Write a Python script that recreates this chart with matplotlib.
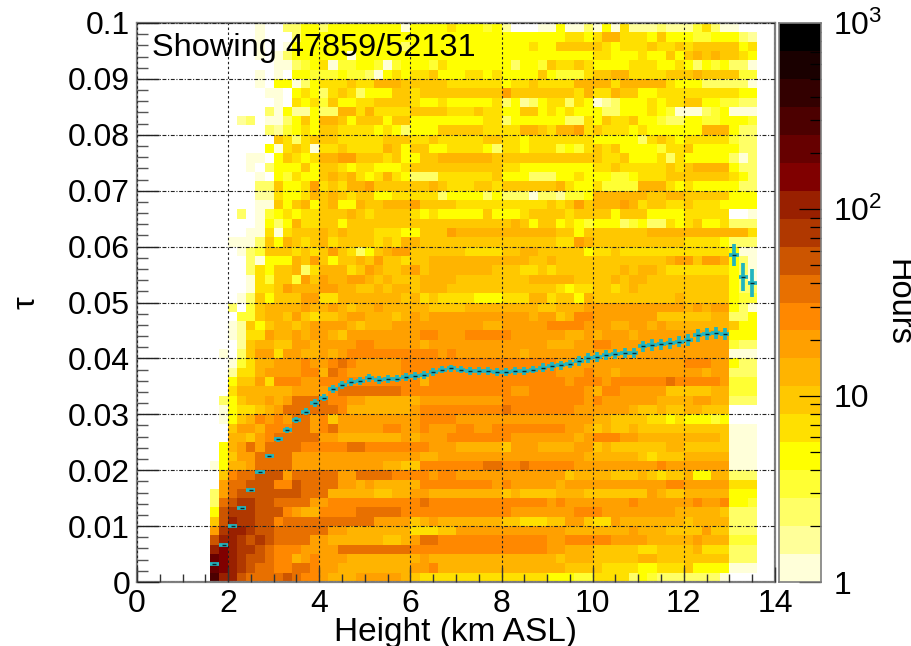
import numpy as np
import matplotlib
matplotlib.use("Agg")
import matplotlib.pyplot as plt
from matplotlib.colors import ListedColormap, BoundaryNorm
from matplotlib.ticker import FixedLocator, NullFormatter, FuncFormatter

plt.rcParams['font.family'] = ['Liberation Sans', 'DejaVu Sans']
plt.rcParams['mathtext.fontset'] = 'custom'
plt.rcParams['mathtext.rm'] = 'Liberation Sans'
plt.rcParams['mathtext.default'] = 'rm'

PALETTE = ['#FFFFD9', '#FFFF99', '#FFFF66', '#FFFF33', '#FFFF00', '#FFE000', '#FFC800', '#FFB400', '#FFA000', '#FF8800',
           '#E87000', '#CC5500', '#B03800', '#992000', '#800000', '#660000', '#4C0000', '#330000', '#1A0000', '#000000']
LEVEL_CODES = 'abcdefghijklmnopqrst'
COLOUR_EDGES = np.logspace(0, 3, 21)

# one entry per tau bin, bottom to top; "<first height column><hours level>" runs
HEAT_ROWS = [
"0q 1n 3l 4k 8l 9k 10j 12i 13h 16i 21h 22g 23f 37e 40d 42f 46c 47e 48d 49c 55c 56a 57.",
"0p 1o 2n 3m 4l 5k 7j 9k 11j 12i 14h 22i 24j 25h 39g 43f 47e 49f 52g 53e 57a",
"0p 1o 2n 3m 4l 6k 7j 9h 10i 11j 12i 15h 23i 24h 38g 39h 42g 47h 49g 57c",
"0n 1o 2n 3m 5l 6k 7j 10i 14k 22j 37i 39h 42g 47f 49g 53h 54f 57c",
"0l 1n 3m 4l 5m 6l 7k 11i 13h 19g 21h 22i 23k 25j 37i 39j 44i 48h 53i 54h 57d",
"0i 1m 2n 4m 5l 7k 13i 15h 22f 25g 27i 39h 46i 47h 50g 54i 55g 57c",
"0g 1l 2n 3m 5l 7j 8k 18i 22g 23h 24i 25h 32g 34f 37g 39i 41g 42f 44i 45h 52g 53h 57c",
"0e 1l 2m 5l 8j 9i 10h 12j 16k 21j 33i 40j 43i 51h 56g 57c",
"0c 1k 2l 3m 5l 7k 11i 13j 23k 24j 37i 38j 39i 46j 47i 53j 54i 56j 57e 59d",
"0c 1i 2k 3l 10k 13h 18g 20h 22i 24h 32g 33h 34g 38h 41g 48i 49h 50g 52h 57e",
"0. 1i 2k 4l 7j 9l 10k 14i 16h 17i 18h 23j 31i 32j 33i 38h 39i 50j 52i 57f",
"0. 1g 2j 3k 5l 8i 9k 14i 16k 20j 24i 25j 27i 39g 40h 44g 47h 48g 49f 50g 52h 53e 55h 57c",
"0a 1e 2h 4i 5k 9i 19h 21g 23j 30k 32j 34k 35j 40i 49j 50i 57a",
"0. 1e 2g 3i 5k 9i 23h 25i 41h 47g 48f 49g 52h 57a",
"0. 1e 2h 3i 4k 5i 6k 10j 15k 17j 24i 27h 32g 33i 36h 40i 42g 43h 44g 50h 52g 57a",
"0. 2h 4g 5i 6j 7k 12i 14h 21i 22h 23i 26j 33i 40h 41i 42j 45i 47h 56g 57a",
"0. 2g 3i 5h 6j 9k 11i 12j 13k 14i 19j 21i 23j 24i 27j 29i 31j 39i 41h 42g 43h 44g 46h 47g 57a",
"0. 1a 2e 3g 4h 5j 6i 7j 8i 9k 11i 12j 13g 14i 23j 27i 42h 44g 48f 50e 51f 52e 55d 56e 57.",
"0. 1a 2e 3f 5g 6h 7i 8k 14j 15h 22i 23j 32k 33j 40i 46h 47g 49h 50g 52h 54g 57.",
"0. 1c 2e 3g 4h 6i 7h 8i 9k 13j 15i 17h 23i 32j 41i 42j 43i 49h 53i 55h 57c",
"0. 2f 3h 9i 13j 14k 21j 33i 35j 41i 42h 43j 45i 50g 55h 57d",
"0. 2e 3g 5i 6f 7j 10i 12j 23h 24j 38j 39i 40j 43i 44j 50k 51j 56i 57d",
"0. 2b 3f 5h 6i 10j 12h 13k 14j 15i 21j 38i 41j 42i 44h 45i 54h 55i 57c",
"0. 2a 3d 4f 5h 7i 10j 11i 13j 14k 15j 16i 21j 38i 52j 55i 57e 58c",
"0. 1a 2. 3c 4g 5i 7f 8i 10h 12i 13h 14i 15j 25i 26j 27i 34h 35i 57a",
"0. 3b 4g 5h 7g 9i 11h 12i 15i 16j 18i 23h 24i 37h 38h 40i 42j 44i 57d 58c",
"0. 2a 3b 4f 6i 7h 9i 10h 11i 13h 14g 15i 23j 25i 28j 33i 38i 39h 41i 42h 43i 46h 47i 57e",
"0. 2a 3b 4g 5e 6g 7h 9g 10h 11i 15h 16g 17h 20i 30h 32i 37j 41i 44h 46i 48h 49i 50h 57g 58e",
"0. 3d 5g 6h 8g 9i 10g 11f 12g 14h 15i 17h 20g 21h 22i 23h 24i 35h 36i 38g 39h 40j 42i 49g 55h 57c 59e",
"0. 2c 3. 4d 5g 6h 10i 11h 13i 14h 15g 16h 18i 19h 24g 28h 36g 38h 41i 52h 53i 54h 55i 57e 58c 59a",
"0. 3a 4c 5g 6e 7g 10i 12f 14h 21g 22h 23f 24g 25f 29e 32f 35h 37f 38g 40e 41h 42g 51h 52g 57e 58d",
"0. 4a 5f 7g 8i 9h 12i 14h 16g 18h 19g 20h 22g 23h 26g 38f 39e 40f 42g 44f 45g 46h 47g 57e 58c",
"0. 4a 5f 6d 7g 9d 10i 11g 12i 13h 15i 17h 18g 19h 20g 23h 27g 35h 38h 40g 44h 45g 46h 48g 57e 58c 59a",
"0. 4c 5f 6e 7g 9h 10c 11f 12h 15f 16g 17i 18h 19g 21h 22i 23g 24h 31g 34f 36g 37f 38g 45h 46g 47h 49g 50f 57e 58c 59a",
"0. 4c 5a 6e 9h 10g 11i 12g 13e 14g 16h 17g 18i 19g 21f 22g 24h 35g 37h 38g 50h 51i 53g 54i 56h 57e 58c 59a",
"0. 3a 4c 5d 6g 9f 10g 11f 12g 13i 14g 15f 16c 17e 18g 19h 20i 22g 28f 32g 34h 36g 41e 42f 44g 45f 57e 58a",
"0. 2a 5c 6g 7e 8h 9g 10f 11g 12h 13f 14g 18f 19g 20f 21h 23g 38f 40i 41h 42g 52f 56e 57c",
"0. 4a 6f 7a 8f 9g 12h 13g 14h 15g 18f 21e 23g 26i 27h 38g 40e 41g 48h 59f",
"0. 5a 6e 7c 8e 9h 10f 12g 14e 15g 33h 34g 35e 36g 38e 39f 40e 41d 42e 45c 46d 47e 48c 50f 51e 52f 53g 54e 56f 57c",
"0. 3c 4. 5a 6d 7e 8f 9e 10f 12g 15h 16g 17f 18g 22f 23e 24f 25e 30g 31e 34f 35g 39f 40g 44e 45g 48e 52f 57. 59a",
"0. 5a 7g 8e 9g 10h 11e 12g 13h 14e 16h 17g 19h 22i 23g 27f 37g 38f 39g 40i 41g 42h 45i 46h 47f 48g 50f 52g 53f 56e",
"0. 5b 7f 8e 10f 11h 12g 13h 14g 15f 16g 18e 20f 25c 26e 30c 31e 32c 35a 36c 38b 39d 41e 42h 48g 50h 52g 57e",
"0. 5c 7g 8e 10f 11i 12f 13g 14f 15h 17i 18g 24h 25g 26f 29g 31f 32g 38h 39f 40e 42f 43d 47h 50f 51e 52f 53e 58c",
"0. 5a 6. 7e 8d 9f 10e 12g 13h 14g 15h 16f 17e 18f 19h 20f 21e 22c 25f 31g 32e 35c 38e 40f 41e 44d 46e 47f 50g 57f 58e 59c",
"0. 4a 5. 6c 7e 10g 11e 12g 14f 15e 16f 18e 21f 22g 32f 34e 38e 42f 44g 45f 50g 51f 52g 53h 57e 58c",
"0. 4a 6. 7e 8g 9f 10e 11f 12h 14i 15i 16g 19f 20g 21e 23g 25h 31g 43f 45g 46e 49f 50c 51f 52e 57c 58a 59c",
"0. 6e 7a 8f 9g 10f 11a 12f 14g 15f 19h 20g 21e 22g 24e 26f 30e 31c 32f 34e 35f 38d 39e 40d 41f 42g 43f 44g 45e 49d 50f 52g 53e 58c",
"0. 7g 8f 9c 10f 11g 14f 19g 22f 24g 25f 30g 32f 34e 35f 42e 47c 48f 49g 50f 51e 52f 57d 58c",
"0. 6c 7b 8d 9e 10f 11e 12g 14f 18e 19f 20e 21c 22e 25g 30f 34h 36g 37f 38h 40i 41f 42g 43f 46e 47f 48e 54h 57e 58c",
"0. 3b 4c 5. 6a 8c 9e 10g 11e 12h 14g 15e 16g 19e 20g 22e 30f 32c 33e 38e 39c 41f 42e 43g 44f 46g 47e 49d 50c 52e 54d 56e 59d",
"0. 6c 7a 8e 9b 11e 12c 14h 15h 16f 17h 18f 22g 26f 29g 30f 32e 34g 36e 37f 38e 39f 40e 43c 45e 48f 49e 50d 51a 54c 55d 56e 57a",
"0. 7a 8. 9f 10e 11f 12d 13g 14e 16f 18g 22f 23e 25f 26e 31f 32c 33e 34b 35c 36e 37f 39c 40f 41e 42a 43b 44c 45e 48f 49e 50f 52g 54e 56d 58c",
"0. 6a 8. 9e 10f 11e 12c 13f 14g 15f 16c 17e 20g 22f 23g 32i 33g 38g 40f 41h 42f 44h 45g 47e 49f 58e",
"0. 5a 6. 7e 9a 10c 11e 12f 15g 16f 18h 21g 26f 32e 33f 35g 36f 38f 40h 44f 45h 50f 51e 54c 59a",
"0. 5a 6. 7a 8. 9e 11d 14e 15d 17c 18a 19e 20f 21e 22f 24g 25e 28f 30e 31f 32e 36g 37e 38d 41f 42g 44h 46f 50g 53h 54g 58d",
"0. 7a 9c 10d 11e 12f 13a 14d 15d 16e 18d 19a 20d 21e 24d 25f 26e 33c 34e 36d 37g 38f 40g 41f 42e 46f 49e 51f 52e 53c 54e 55d 56e 57c 59a",
"0. 5a 6. 7a 8c 9e 15a 16e 38e 42f 44e 47f 48e 50g 51e 52g 53h 54g 55h 56g 58f 59e",
"0. 5a 6. 8a 9e 21c 22e 35f 36e 38g 43f 44e 45f 48g 49f 51g 52f 53g 58e 59f",
"0. 5a 6. 9c 10e 38e 39f 41e 42f 43h 45f 48e 49g 50e 53d 55e 58c 59b",
"0. 5a 6. 8c 10e 12c 13e 21a 22e 26f 27e 30d 31e 32b 33. 36a 37a 38e 39a 41c 42a 43e 44a 45f 46b 49c 50b 53d 54f 55c 56a 58.",
]

HEIGHT_CENTRES = [1.7, 1.9, 2.1, 2.3, 2.5, 2.7, 2.9, 3.1, 3.3, 3.5, 3.7, 3.9, 4.1, 4.3, 4.5, 4.7, 4.9, 5.1, 5.3, 5.5,
                  5.7, 5.9, 6.1, 6.3, 6.5, 6.7, 6.9, 7.1, 7.3, 7.5, 7.7, 7.9, 8.1, 8.3, 8.5, 8.7, 8.9, 9.1, 9.3, 9.5,
                  9.7, 9.9, 10.1, 10.3, 10.5, 10.7, 10.9, 11.1, 11.3, 11.5, 11.7, 11.9, 12.1, 12.3, 12.5, 12.7, 12.9,
                  13.1, 13.3, 13.5]
MEAN_TAU = [.0033, .0066, .0100, .0132, .0165, .0197, .0225, .0255, .0272, .0290, .0305, .0320, .0330, .0345, .0352,
            .0358, .0360, .0365, .0362, .0363, .0364, .0367, .0368, .0370, .0375, .0380, .0382, .0380, .0378, .0378,
            .0377, .0376, .0375, .0377, .0378, .0380, .0383, .0386, .0388, .0390, .0395, .0400, .0403, .0406, .0408,
            .0409, .0410, .0422, .0424, .0425, .0427, .0430, .0433, .0441, .0444, .0445, .0444, .0585, .0545, .0535]
TAU_ERR = [.0001, .0001, .0002, .0002, .0002, .0004, .0004, .0005, .0005, .0006, .0006, .0007, .0007, .0007, .0007,
           .0007, .0007, .0007, .0007, .0007, .0007, .0007, .0007, .0007, .0007, .0007, .0007, .0007, .0007, .0007,
           .0007, .0007, .0007, .0007, .0007, .0007, .0008, .0008, .0008, .0008, .0009, .0009, .0009, .0009, .0009,
           .0009, .0009, .0010, .0010, .0010, .0010, .0010, .0010, .0011, .0011, .0011, .0011, .0020, .0025, .0025]
X_TICKS = [0, 2, 4, 6, 8, 10, 12, 14]
Y_TICKS = [0, .01, .02, .03, .04, .05, .06, .07, .08, .09, .1]
Y_TICK_LABELS = ['0', '0.01', '0.02', '0.03', '0.04', '0.05', '0.06', '0.07', '0.08', '0.09', '0.1']
CB_MAJOR = [1, 10, 100, 1000]
CB_LABELS = ['1', '10', r'$10^{2}$', r'$10^{3}$']
CB_MINOR = [2, 3, 4, 5, 6, 7, 8, 9, 20, 30, 40, 50, 60, 70, 80, 90, 200, 300, 400, 500, 600, 700, 800, 900]
TITLE_NOTE = 'Showing 47859/52131'

LEVEL_MID = np.sqrt(COLOUR_EDGES[:-1] * COLOUR_EDGES[1:])


def decode(row):
    out = np.full(60, np.nan)
    toks = row.split()
    for k, tok in enumerate(toks):
        a, code = int(tok[:-1]), tok[-1]
        b = int(toks[k + 1][:-1]) if k + 1 < len(toks) else 60
        if code != '.':
            out[a:b] = LEVEL_MID[LEVEL_CODES.index(code)]
    return out


hours = np.ma.masked_invalid(np.array([decode(r) for r in HEAT_ROWS]))
x_edges = np.linspace(0, 14, 71)[8:69]
y_edges = np.linspace(0, 0.1, 61)
cmap = ListedColormap(PALETTE)
norm = BoundaryNorm(COLOUR_EDGES, cmap.N)

W, H = 912, 646
fig = plt.figure(figsize=(W / 100, H / 100), dpi=100)
FS = 23
GREY = '#7f7f7f'
ax = fig.add_axes([137 / W, 1 - 582 / H, (775 - 137) / W, (582 - 23) / H])
ax.pcolormesh(x_edges, y_edges, hours, cmap=cmap, norm=norm, linewidth=0, rasterized=True, zorder=1)
ax.set_xlim(0, 14)
ax.set_ylim(0, 0.1)
ax.set_xticks(X_TICKS)
ax.set_yticks(Y_TICKS)
ax.set_yticklabels(Y_TICK_LABELS)
ax.xaxis.set_minor_locator(FixedLocator([v * 0.5 for v in range(29) if v % 4]))
ax.yaxis.set_minor_locator(FixedLocator([v * 0.002 for v in range(51) if v % 5]))
ax.tick_params(axis='x', which='major', direction='in', length=11, width=1, labelsize=FS, pad=5, color='#333333')
ax.tick_params(axis='x', which='minor', direction='in', length=5.5, width=1, color='#333333')
ax.tick_params(axis='y', which='major', direction='in', length=16, width=1, labelsize=FS, pad=5, color='#222222')
ax.tick_params(axis='y', which='minor', direction='in', length=8, width=1, color='#555555')
ax.set_axisbelow(False)
ax.grid(True, which='major', axis='x', color='#222222', lw=0.8, ls=(0, (2.2, 2.2)), zorder=3)
ax.grid(True, which='major', axis='y', color='#222222', lw=0.8, ls=(0, (3.5, 1.5, 1, 1.5)), zorder=3)
for s in ax.spines.values():
    s.set_color(GREY)
    s.set_linewidth(1.6)

ax.errorbar(HEIGHT_CENTRES, MEAN_TAU, xerr=0.1, yerr=TAU_ERR, fmt='none', ecolor='#22B5BF', elinewidth=2.7, zorder=4)
ax.plot(HEIGHT_CENTRES, MEAN_TAU, ls='none', marker='_', color='#0b2a30', ms=3.5, mew=1.0, zorder=5)

ax.set_xlabel('Height (km ASL)', fontsize=24)
ax.xaxis.set_label_coords(0.5, (582 - 632) / 559, transform=ax.transAxes)
ax.xaxis.label.set_va('center')
ax.set_ylabel('\u03c4', fontsize=FS, rotation=90)
ax.yaxis.set_label_coords((27 - 137) / 638, 0.5)
ax.yaxis.label.set_va('center')
ax.text(0.0235, 1 - 25 / 559, TITLE_NOTE, transform=ax.transAxes, fontsize=23.4, va='center', ha='left', color='black', zorder=6)

cax = fig.add_axes([779 / W, 1 - 582 / H, (821 - 779) / W, (582 - 23) / H])
cax.pcolormesh([0, 1], COLOUR_EDGES, LEVEL_MID[:, None], cmap=cmap, norm=norm, linewidth=0, rasterized=True)
cax.set_yscale('log')
cax.set_ylim(1, 1000)
cax.set_xticks([])
cax.yaxis.tick_right()
cax.yaxis.set_major_locator(FixedLocator(CB_MAJOR))
cax.yaxis.set_major_formatter(FuncFormatter(lambda v, p: CB_LABELS[CB_MAJOR.index(int(round(v)))]))
cax.yaxis.set_minor_locator(FixedLocator(CB_MINOR))
cax.yaxis.set_minor_formatter(NullFormatter())
cax.tick_params(axis='y', which='major', direction='in', length=16, width=0.9, labelsize=FS, pad=9, color='black')
cax.tick_params(axis='y', which='minor', direction='in', length=8, width=0.9, color='black')
for s in cax.spines.values():
    s.set_color(GREY)
    s.set_linewidth(1.2)
fig.text(898 / W, 1 - 302 / H, 'Hours', rotation=270, fontsize=23.5, ha='center', va='center')
fig.savefig('out.png', dpi=100)
